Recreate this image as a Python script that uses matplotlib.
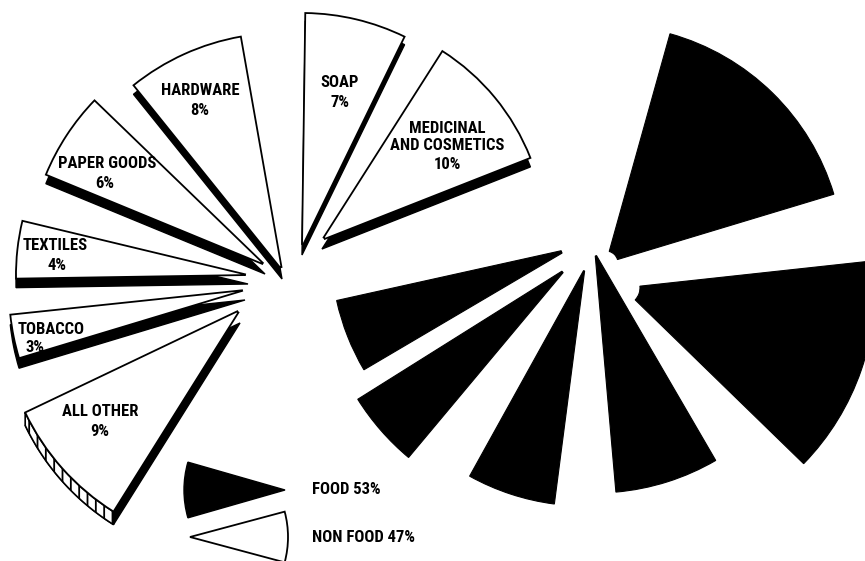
import matplotlib
matplotlib.use("Agg")
import matplotlib.pyplot as plt
from matplotlib.patches import Wedge, Polygon
from matplotlib import font_manager
import numpy as np

# ---------------- data ----------------
nonfood_labels = ["MEDICINAL\nAND COSMETICS", "SOAP", "HARDWARE", "PAPER GOODS",
                  "TEXTILES", "TOBACCO", "ALL OTHER"]
nonfood_values = [10, 7, 8, 6, 4, 3, 9]          # percent
food_values = [16, 14, 7, 6, 5, 5]                # percent (unlabelled black slices)
legend_labels = ["FOOD", "NON FOOD"]
legend_values = [53, 47]

# ---------------- layout (image pixel coords, y down) ----------------
W, H = 865, 561
DEG_PER_PCT = 3.6

nf_start = [21.5, 64, 100, 136, 166.5, 186, 205.5]          # CCW start angle
nf_apex = [(322, 240), (302, 247), (282, 270), (265, 265), (248, 275), (245, 290), (240, 310)]
nf_radius = [224, 234, 237, 237, 232, 236, 238]
nf_shadow = [9, 8, 9, 9, 9, 10, 13]
# (label x, label y, pct x, pct y, align)
nf_text = [(447, 137, 447, 164, "center"), (340, 82, 340, 102, "center"),
           (200, 90, 200, 110, "center"), (107, 163, 105, 183, "center"),
           (55, 245, 57, 265, "center"), (18, 330, 25, 348, "left"),
           (100, 411, 100, 432, "center")]

f_upper = [74.4, 6.2, -59.8, -97.4, -129.9, -149.5]         # slices run clockwise from here
f_apex = [(606, 263), (623, 288), (595, 253), (585, 268), (567, 268), (569, 249)]
f_radius = [238, 252, 240, 238, 247, 238]
f_inner = [12, 17, 3, 3, 6, 8]

installed = {f.name for f in font_manager.fontManager.ttflist}
candidates = ["Roboto Condensed", "Liberation Sans Narrow", "Roboto", "DejaVu Sans"]
FONT = [c for c in candidates if c in installed] or ["DejaVu Sans"]
FS = 12

def Y(y):
    return H - y

fig = plt.figure(figsize=(W / 100, H / 100), dpi=100)
ax = fig.add_axes([0, 0, 1, 1])
ax.set_xlim(0, W)
ax.set_ylim(0, H)
ax.set_aspect("equal")
ax.axis("off")
plt.rcParams["hatch.linewidth"] = 1.3

txt_kw = dict(fontsize=FS, fontweight="bold", family=FONT, linespacing=1.1, zorder=5)

# ---------------- non-food slices (white with thickness) ----------------
for i, (lab, v) in enumerate(zip(nonfood_labels, nonfood_values)):
    t1 = nf_start[i]
    t2 = t1 + v * DEG_PER_PCT
    cx, cy = nf_apex[i][0], Y(nf_apex[i][1])
    r = nf_radius[i]
    sh = nf_shadow[i]
    ax.add_patch(Wedge((cx, cy - sh), r, t1, t2, facecolor="black",
                       edgecolor="black", lw=1.0, zorder=1))
    if lab == "ALL OTHER":
        th = np.radians(np.linspace(t1, t2, 80))
        top = np.column_stack([cx + r * np.cos(th), cy + r * np.sin(th)])
        bot = top.copy()
        bot[:, 1] -= sh
        band = np.vstack([top, bot[::-1]])
        ax.add_patch(Polygon(band, closed=True, facecolor="white", edgecolor="black",
                             lw=1.2, hatch="||", zorder=2))
    ax.add_patch(Wedge((cx, cy), r, t1, t2, width=r - 3, facecolor="white",
                       edgecolor="black", lw=1.3, zorder=3))
    lx, ly, px, py, ha = nf_text[i]
    ax.text(lx, Y(ly), lab, ha=ha, va="center", multialignment="center", **txt_kw)
    ax.text(px, Y(py), f"{v}%", ha=ha, va="center", **txt_kw)

# ---------------- food slices (black) ----------------
for i, v in enumerate(food_values):
    t2 = f_upper[i]
    t1 = t2 - v * DEG_PER_PCT
    cx, cy = f_apex[i][0], Y(f_apex[i][1])
    r = f_radius[i]
    ax.add_patch(Wedge((cx, cy), r, t1, t2, width=r - f_inner[i],
                       facecolor="black", edgecolor="black", lw=0.8, zorder=3))

# ---------------- legend ----------------
ax.add_patch(Wedge((285, Y(490)), 101, 164, 196, facecolor="black",
                   edgecolor="black", lw=1.0, zorder=3))
ax.add_patch(Wedge((190, Y(537)), 98, -15, 15, facecolor="white",
                   edgecolor="black", lw=1.3, zorder=3))
for (lab, v), ty in zip(zip(legend_labels, legend_values), [490, 537]):
    ax.text(312, Y(ty), f"{lab} {v}%", ha="left", va="center", **txt_kw)

fig.savefig("out.png", dpi=100, facecolor="white")
